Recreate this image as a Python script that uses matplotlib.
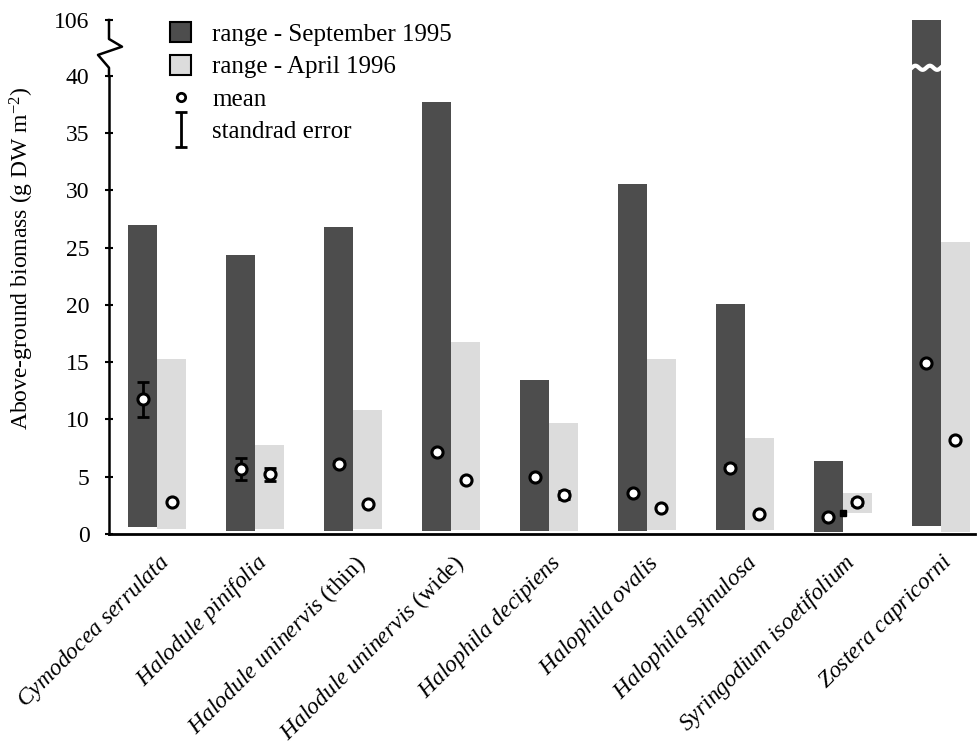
import numpy as np
import matplotlib.pyplot as plt
from matplotlib.patches import Patch
from matplotlib.lines import Line2D
from matplotlib.legend_handler import HandlerErrorbar
import matplotlib.transforms as mtransforms

plt.rcParams['font.family'] = 'Liberation Serif'
plt.rcParams['mathtext.fontset'] = 'custom'
plt.rcParams['mathtext.rm'] = 'Liberation Serif'
plt.rcParams['mathtext.it'] = 'Liberation Serif:italic'

# ---------------- data ----------------
species = [r"$\mathit{Cymodocea\ serrulata}$",
           r"$\mathit{Halodule\ pinifolia}$",
           r"$\mathit{Halodule\ uninervis}$ (thin)",
           r"$\mathit{Halodule\ uninervis}$ (wide)",
           r"$\mathit{Halophila\ decipiens}$",
           r"$\mathit{Halophila\ ovalis}$",
           r"$\mathit{Halophila\ spinulosa}$",
           r"$\mathit{Syringodium\ isoetifolium}$",
           r"$\mathit{Zostera\ capricorni}$"]

sep_min = [0.64, 0.26, 0.26, 0.29, 0.29, 0.29, 0.35, 0.2, 0.72]
sep_max = [27.0, 24.4, 26.8, 37.7, 13.45, 30.6, 20.1, 6.4, 106.0]
sep_mean = [11.76, 5.7, 6.14, 7.16, 4.98, 3.6, 5.8, 1.5, 14.96]
sep_se = [1.5, 0.95, 0.2, 0.2, 0.15, 0.1, 0.2, 0.0, 0.0]

apr_min = [0.46, 0.46, 0.46, 0.35, 0.29, 0.35, 0.38, 1.86, 0.2]
apr_max = [15.3, 7.8, 10.8, 16.8, 9.7, 15.3, 8.4, 3.58, 25.5]
apr_mean = [2.8, 5.2, 2.6, 4.7, 3.4, 2.3, 1.75, 2.8, 8.24]
apr_se = [0.0, 0.6, 0.0, 0.0, 0.35, 0.0, 0.0, 0.3, 0.0]

# odd little black mark in the Syringodium group
extra_idx = [7]
extra_val = [1.85]

yticks = [0, 5, 10, 15, 20, 25, 30, 35, 40, 106]

legend_labels = ["range - September 1995", "range - April 1996", "mean", "standrad error"]

DARK = '#4d4d4d'
LIGHT = '#dcdcdc'
BREAK_AT = 40
SQUEEZE = 4.89 / 66.0


def fwd(v):
    v = np.asarray(v, dtype=float)
    return np.where(v <= BREAK_AT, v, BREAK_AT + (v - BREAK_AT) * SQUEEZE)


def inv(v):
    v = np.asarray(v, dtype=float)
    return np.where(v <= BREAK_AT, v, BREAK_AT + (v - BREAK_AT) / SQUEEZE)


x = np.arange(len(species))
w = 0.296

fig = plt.figure(figsize=(9.77, 7.54), dpi=100)
ax = fig.add_axes([109 / 977, 1 - 534 / 754, 866 / 977, 514 / 754])
ax.set_yscale('function', functions=(fwd, inv))

sep_min = np.array(sep_min)
sep_max = np.array(sep_max)
apr_min = np.array(apr_min)
apr_max = np.array(apr_max)

ax.bar(x - w / 2, sep_max - sep_min, bottom=sep_min, width=w, color=DARK, zorder=2)
ax.bar(x + w / 2, apr_max - apr_min, bottom=apr_min, width=w, color=LIGHT, zorder=2)

# error bars (only where visible), then mean markers on top
for off, mean, se in [(-w / 2, sep_mean, sep_se), (w / 2, apr_mean, apr_se)]:
    mean = np.array(mean)
    se = np.array(se)
    m = se > 0
    ax.errorbar(x[m] + off, mean[m], yerr=se[m], fmt='none', ecolor='black',
                elinewidth=2, capsize=4, capthick=2, zorder=3)
    ax.plot(x + off, mean, 'o', ms=8, mfc='white', mec='black', mew=2.2, zorder=4)

ax.plot(np.array(extra_idx, dtype=float), extra_val, 's', ms=5, color='black', zorder=4)

ax.set_ylim(0, 106)
ax.set_xlim(-0.495, 8.35)
ax.set_yticks(yticks)
ax.set_yticklabels([str(t) for t in yticks])
ax.tick_params(axis='y', direction='inout', length=6, width=1.5, labelsize=17, pad=11)
ax.set_xticks(x)
ax.set_xticklabels(species, rotation=45, ha='right', va='top', rotation_mode='anchor', fontsize=17)
ax.tick_params(axis='x', length=0, pad=12)

for s in ['top', 'right']:
    ax.spines[s].set_visible(False)
ax.spines['left'].set_linewidth(1.8)
ax.spines['bottom'].set_linewidth(2)
ax.spines['left'].set_bounds(0, BREAK_AT)

# broken axis zigzag
top_frac = float(fwd(BREAK_AT) / fwd(106))
zx = [0, 0, -11 / 866, 13 / 866, 0, 0]
zy = [top_frac, top_frac + 0.016, top_frac + 0.041, top_frac + 0.057, top_frac + 0.072, 1.0]
ax.add_line(Line2D(zx, zy, transform=ax.transAxes, color='black', lw=1.8, clip_on=False))

# white wave across bars that cross the break
blend = mtransforms.blended_transform_factory(ax.transData, ax.transAxes)
for i in np.where(sep_max > BREAK_AT)[0]:
    xs = np.linspace(x[i] - w, x[i], 60)
    ys = top_frac + 0.016 + 0.004 * np.sin((xs - xs[0]) / w * 4 * np.pi)
    ax.plot(xs, ys, color='white', lw=3, transform=blend, zorder=3)

ax.set_ylabel(r"Above-ground biomass (g DW m$^{-2}$)", fontsize=17, va='center')
ax.yaxis.set_label_coords(-0.1, 0.537)

# legend
eb = ax.errorbar([np.nan], [np.nan], yerr=[1], fmt='none', ecolor='black',
                 elinewidth=2, capsize=4, capthick=2)
handles = [Patch(facecolor=DARK, edgecolor='black', lw=1.5),
           Patch(facecolor=LIGHT, edgecolor='black', lw=1.5),
           Line2D([], [], marker='o', ls='none', ms=6, mfc='white', mec='black', mew=2),
           eb]
fig.legend(handles, legend_labels, loc='upper left', bbox_to_anchor=(170 / 977, 1 - 22 / 754),
           frameon=False, fontsize=18, handlelength=0.85, handleheight=0.85,
           handletextpad=0.85, labelspacing=0.36, borderpad=0, borderaxespad=0,
           handler_map={eb: HandlerErrorbar(yerr_size=0.7)})

fig.savefig('out.png', dpi=100)
